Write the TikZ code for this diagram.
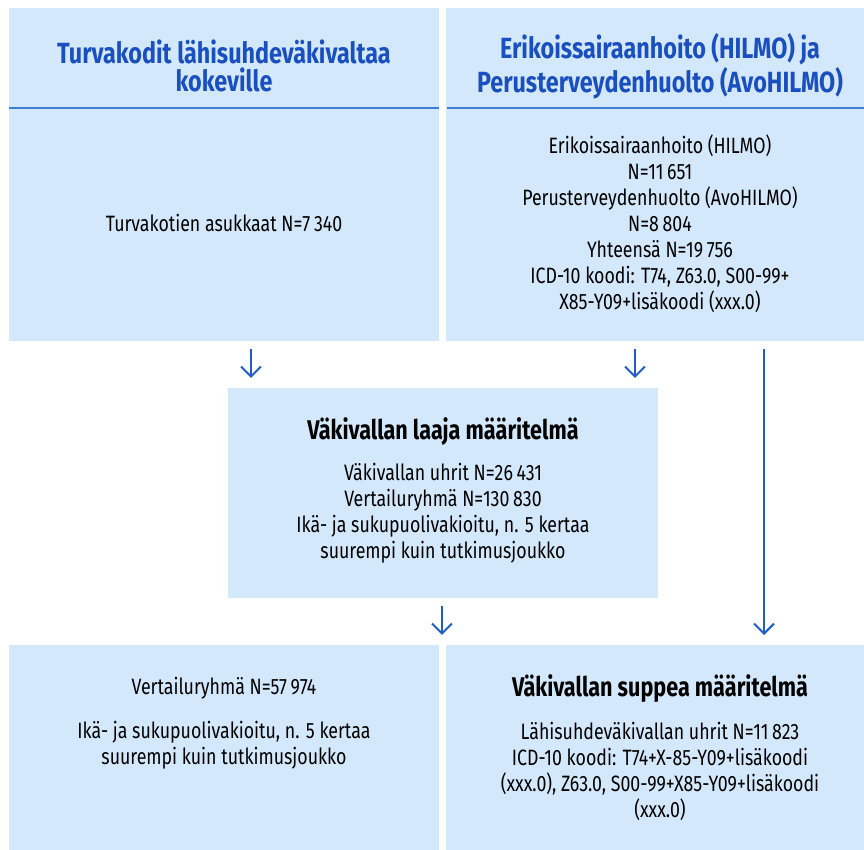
\documentclass[tikz,border=0pt]{standalone}
\usepackage{fontspec}
\setmainfont{Fira Sans}[FakeStretch=0.8]
\usepackage{tikz}
\usetikzlibrary{arrows.meta,positioning}
\pgfdeclarelayer{edgelayer}
\pgfdeclarelayer{nodelayer}
\pgfsetlayers{edgelayer,nodelayer,main}
\definecolor{boxfill}{HTML}{D4E8FC}
\definecolor{headblue}{HTML}{1A4FBF}
\definecolor{arrowblue}{HTML}{1E5CC6}
\definecolor{ruleblue}{HTML}{3B7DD8}
\newcommand{\bodysize}{\fontsize{11.1}{13}\selectfont}
\newcommand{\titlesize}{\fontsize{13.5}{14}\selectfont}
\newcommand{\headsize}{\fontsize{14.6}{14}\selectfont}
\tikzstyle{none}=[inner sep=0pt]
\tikzstyle{box}=[rectangle,fill=boxfill,draw=none,inner sep=0pt]
\tikzstyle{head}=[align=center,font=\headsize\bfseries,text=headblue,inner sep=0pt]
\tikzstyle{body}=[align=center,font=\bodysize,inner sep=0pt]
\tikzstyle{title}=[align=center,font=\titlesize\bfseries,inner sep=0pt]
\tikzstyle{downarrow}=[-{Straight Barb[length=5pt,width=10pt]},draw=arrowblue,line width=1pt]
\tikzstyle{rule}=[-,draw=ruleblue,line width=1pt]

\begin{document}
\begin{tikzpicture}[x=0.5pt,y=-0.5pt]
	\useasboundingbox (0,0) rectangle (864,850);
	\begin{pgfonlayer}{edgelayer}
		\node [style=box, minimum width=215pt, minimum height=166.5pt] (shelter) at (224,174.5) {};
		\node [style=box, minimum width=209pt, minimum height=166.5pt] (hilmo) at (655,174.5) {};
		\node [style=box, minimum width=215pt, minimum height=105pt] (broad) at (443,493) {};
		\node [style=box, minimum width=215pt, minimum height=102.5pt] (control) at (224,747.5) {};
		\node [style=box, minimum width=209pt, minimum height=102.5pt] (narrow) at (655,747.5) {};
	\end{pgfonlayer}
	\begin{pgfonlayer}{nodelayer}
		\node [style=head] (shelterhead) at (224,66) {Turvakodit lähisuhdeväkivaltaa\\kokeville};
		\node [style=head] (hilmohead) at (660,66) {Erikoissairaanhoito (HILMO) ja\\Perusterveydenhuolto (AvoHILMO)};
		\node [style=none] (RL1) at (9,108) {};
		\node [style=none] (RL2) at (439,108) {};
		\node [style=none] (RR1) at (447,108) {};
		\node [style=none] (RR2) at (864,108) {};
		\node [style=body] (shelterbody) at (224,223) {Turvakotien asukkaat N=7\,340};
		\node [style=body] (hilmobody) at (660,224) {Erikoissairaanhoito (HILMO)\\N=11\,651\\Perusterveydenhuolto (AvoHILMO)\\N=8\,804\\Yhteensä N=19\,756\\ICD-10 koodi: T74, Z63.0, S00-99+\\X85-Y09+lisäkoodi (xxx.0)};
		\node [style=title] (broadtitle) at (443,432) {Väkivallan laaja määritelmä};
		\node [style=body] (broadbody) at (443,513) {Väkivallan uhrit N=26\,431\\Vertailuryhmä N=130\,830\\Ikä- ja sukupuolivakioitu, n. 5 kertaa\\suurempi kuin tutkimusjoukko};
		\node [style=body] (controlbody) at (224,688) {Vertailuryhmä N=57\,974};
		\node [style=body] (controlnote) at (224,745.5) {Ikä- ja sukupuolivakioitu, n. 5 kertaa\\suurempi kuin tutkimusjoukko};
		\node [style=title] (narrowtitle) at (660,689) {Väkivallan suppea määritelmä};
		\node [style=body] (narrowbody) at (660,771.5) {Lähisuhdeväkivallan uhrit N=11\,823\\ICD-10 koodi: T74+X-85-Y09+lisäkoodi\\(xxx.0), Z63.0, S00-99+X85-Y09+lisäkoodi\\(xxx.0)};
		\node [style=none] (a1s) at (251,349) {};
		\node [style=none] (a1e) at (251,378) {};
		\node [style=none] (a2s) at (635,349) {};
		\node [style=none] (a2e) at (635,378) {};
		\node [style=none] (a3s) at (442,606) {};
		\node [style=none] (a3e) at (442,635) {};
		\node [style=none] (a4s) at (764,349) {};
		\node [style=none] (a4e) at (764,635) {};
	\end{pgfonlayer}
	\draw [style=rule] (RL1.center) to (RL2.center);
	\draw [style=rule] (RR1.center) to (RR2.center);
	\draw [style=downarrow] (a1s.center) to (a1e.center);
	\draw [style=downarrow] (a2s.center) to (a2e.center);
	\draw [style=downarrow] (a3s.center) to (a3e.center);
	\draw [style=downarrow] (a4s.center) to (a4e.center);
\end{tikzpicture}
\end{document}
